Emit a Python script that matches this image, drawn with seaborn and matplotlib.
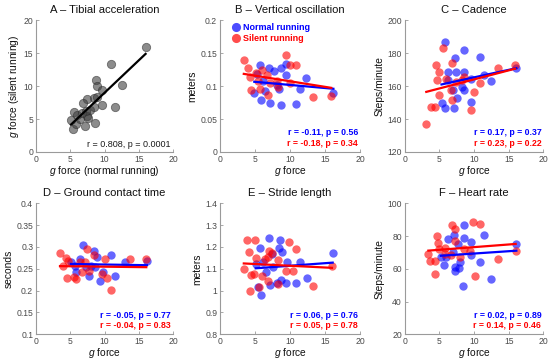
import matplotlib
matplotlib.use("Agg")
import matplotlib.pyplot as plt
from matplotlib.ticker import FuncFormatter
import seaborn as sns
import numpy as np

# A - tibial acceleration, normal vs silent
tib_normal = [16.0, 11.0, 8.8, 8.9, 9.7, 12.5, 11.5, 9.6, 8.5, 7.5, 6.8, 5.6, 5.1, 5.4,
              5.8, 6.0, 6.4, 7.2, 7.5, 7.6, 7.9, 8.4, 8.6, 7.3, 6.7, 8.9]
tib_silent = [15.9, 13.4, 11.0, 10.0, 9.4, 10.1, 6.8, 7.2, 8.2, 8.1, 7.4, 6.0, 4.8, 3.5,
              4.3, 5.6, 5.0, 3.9, 5.4, 5.1, 6.4, 6.9, 4.4, 6.2, 5.9, 8.4]

# B - vertical oscillation
vo_norm_x = [16.2, 12.3, 11.5, 10.8, 9.4, 9.4, 8.7, 8.7, 8.5, 8.2, 7.7, 7.2, 7.0, 5.7, 5.8, 4.9, 5.3, 6.5, 6.2]
vo_norm_y = [0.090, 0.113, 0.096, 0.073, 0.134, 0.117, 0.127, 0.071, 0.096, 0.102, 0.123, 0.074, 0.127,
             0.132, 0.079, 0.089, 0.119, 0.093, 0.107]
vo_sil_x = [3.4, 4.0, 4.3, 4.5, 5.1, 5.5, 6.0, 6.7, 6.9, 7.1, 8.1, 9.4, 10.0, 10.9, 10.0, 13.3, 15.9, 8.3, 5.7]
vo_sil_y = [0.139, 0.127, 0.114, 0.094, 0.120, 0.107, 0.124, 0.117, 0.086, 0.104, 0.107, 0.147, 0.132,
            0.132, 0.104, 0.084, 0.085, 0.098, 0.095]

# C - cadence
cad_norm_x = [5.8, 8.6, 10.8, 7.2, 16.1, 11.5, 12.5, 8.6, 7.4, 6.2, 5.3, 5.8, 7.1, 7.6, 9.5, 8.6, 8.2, 7.0, 9.5, 6.2]
cad_norm_y = [186.9, 181.8, 177.8, 177.2, 170.7, 167.0, 163.0, 168.7, 168.7, 168.7, 149.5, 146.5, 146.5,
              152.5, 150.5, 157.6, 159.2, 157.6, 164.4, 163.4]
cad_sil_x = [3.1, 3.8, 4.3, 4.7, 4.9, 5.0, 4.5, 5.5, 6.8, 6.8, 6.6, 7.4, 8.6, 9.5, 10.0, 10.8, 13.4, 15.9, 6.0, 8.2]
cad_sil_y = [136.8, 147.5, 147.5, 163.6, 154.5, 168.7, 173.1, 183.2, 174.3, 151.5, 157.6, 162.6, 165.3,
             145.5, 156.6, 161.6, 171.1, 172.7, 164.6, 163.6]

# D - ground contact time
gct_norm_x = [6.8, 8.4, 8.9, 10.9, 11.5, 16.2, 13.0, 9.3, 7.7, 6.4, 5.7, 5.1, 8.6, 9.8, 7.3, 5.9, 8.1]
gct_norm_y = [0.304, 0.291, 0.276, 0.281, 0.234, 0.268, 0.265, 0.222, 0.234, 0.273, 0.257, 0.266, 0.254,
              0.242, 0.254, 0.242, 0.257]
gct_sil_x = [3.5, 4.0, 4.4, 4.7, 4.5, 5.5, 5.9, 6.4, 7.2, 7.5, 8.4, 10.1, 10.3, 11.0, 13.7, 16.1, 6.7, 7.8, 9.6]
gct_sil_y = [0.286, 0.257, 0.274, 0.268, 0.228, 0.232, 0.227, 0.265, 0.265, 0.295, 0.281, 0.272, 0.228,
             0.202, 0.272, 0.272, 0.242, 0.245, 0.238]

# E - stride length
sl_norm_x = [7.0, 8.6, 8.5, 8.8, 5.7, 5.1, 6.2, 7.5, 9.6, 11.5, 12.4, 16.1, 10.9, 9.4, 8.7, 8.1, 7.2,
             5.9, 5.5, 6.6, 7.6]
sl_norm_y = [1.239, 1.231, 1.197, 1.178, 1.197, 1.124, 1.129, 1.166, 1.132, 1.129, 1.056, 1.171, 1.033,
             1.033, 1.050, 1.033, 1.025, 0.980, 1.015, 1.086, 1.106]
sl_sil_x = [3.4, 3.8, 4.2, 4.3, 4.5, 4.9, 5.0, 5.2, 5.6, 6.0, 6.4, 6.8, 7.0, 7.4, 6.9, 8.3, 8.3, 9.5,
            9.9, 10.9, 10.5, 13.3, 16.0]
sl_sil_y = [1.101, 1.232, 1.178, 1.000, 1.071, 1.076, 1.232, 1.147, 1.015, 1.068, 1.145, 1.152, 1.183,
            1.172, 1.045, 1.030, 1.141, 1.091, 1.223, 1.190, 1.091, 1.022, 1.111]

# F - heart rate
hr_norm_x = [8.5, 8.6, 11.5, 9.5, 16.1, 7.1, 6.2, 7.7, 9.5, 8.0, 7.3, 7.2, 5.7, 5.2, 6.0, 10.8, 12.5, 8.4, 7.8, 7.0]
hr_norm_y = [86.6, 78.5, 80.5, 76.5, 75.4, 80.5, 78.1, 75.0, 68.1, 64.0, 61.0, 58.8, 62.2, 67.4, 66.9,
             63.9, 53.7, 49.6, 60.4, 70.5]
hr_sil_x = [3.4, 3.7, 4.3, 4.3, 4.7, 4.8, 5.0, 5.8, 6.8, 7.2, 7.2, 6.6, 8.0, 8.5, 9.4, 9.8, 10.9, 10.1,
            13.4, 16.0, 5.8]
hr_sil_y = [69.3, 64.8, 64.8, 56.7, 80.1, 76.0, 72.0, 72.4, 86.6, 84.2, 77.1, 68.3, 66.9, 72.0, 70.9,
            88.6, 87.6, 55.7, 65.9, 71.0, 68.9]

plt.rcParams['font.family'] = ['Liberation Sans', 'DejaVu Sans']
plt.rcParams['mathtext.fontset'] = 'custom'
plt.rcParams['mathtext.it'] = 'Liberation Sans:italic'
plt.rcParams['mathtext.rm'] = 'Liberation Sans'

AXCOL = '#9a9a9a'
TXTCOL = '#4a4a4a'
BLUE = '#0000ff'
RED = '#ff0000'
MS = 36


def style_axes(ax, title, ylabel, xlabel, ylim, yticks):
    sns.despine(ax=ax)
    for s in ['left', 'bottom']:
        ax.spines[s].set_color(AXCOL)
        ax.spines[s].set_linewidth(0.8)
    ax.set_xlim(0, 20)
    ax.set_xticks([0, 5, 10, 15, 20])
    ax.set_ylim(*ylim)
    ax.set_yticks(yticks)
    ax.yaxis.set_major_formatter(FuncFormatter(lambda v, p: '%g' % round(v, 3)))
    ax.tick_params(direction='in', length=2, width=0.6, color=AXCOL, labelsize=6.2,
                   labelcolor=TXTCOL, pad=2)
    ax.set_title(title, fontsize=8.1, color='#111111', pad=5)
    ax.set_xlabel(xlabel, fontsize=7.4, color='#111111', labelpad=0)
    ax.set_ylabel(ylabel, fontsize=7.4, color='#111111', labelpad=2)
    ax.set_facecolor('white')


def pair_panel(ax, nx, ny, sx, sy, title, ylabel, ylim, yticks, txt_b, txt_r):
    sns.regplot(x=np.array(nx), y=np.array(ny), ax=ax, ci=None, color=BLUE,
                scatter_kws=dict(s=MS, alpha=0.6, linewidths=0),
                line_kws=dict(lw=1.6, color=BLUE))
    sns.regplot(x=np.array(sx), y=np.array(sy), ax=ax, ci=None, color=RED,
                scatter_kws=dict(s=MS, alpha=0.6, linewidths=0),
                line_kws=dict(lw=1.6, color=RED))
    style_axes(ax, title, ylabel, r'$\it{g}$ force', ylim, yticks)
    ax.text(0.985, 0.145, txt_b, transform=ax.transAxes, ha='right', va='center',
            color=BLUE, fontsize=6.3, fontweight='bold')
    ax.text(0.985, 0.065, txt_r, transform=ax.transAxes, ha='right', va='center',
            color=RED, fontsize=6.3, fontweight='bold')


fig = plt.figure(figsize=(5.5, 3.61), dpi=100)
fig.patch.set_facecolor('white')

w = 0.252
h = 0.365
top_b = 0.579
bot_b = 0.074
lefts = [0.0655, 0.400, 0.736]

axA = fig.add_axes([lefts[0], top_b, 0.249, h])
sns.regplot(x=np.array(tib_normal), y=np.array(tib_silent), ax=axA, ci=None, color='#404040',
            scatter_kws=dict(s=MS, alpha=0.6, linewidths=0.6, edgecolors='#303030'),
            line_kws=dict(lw=1.6, color='black'))
style_axes(axA, 'A – Tibial acceleration', r'$\it{g}$ force (silent running)',
           r'$\it{g}$ force (normal running)', (0, 20), [0, 5, 10, 15, 20])
axA.text(0.985, 0.06, 'r = 0.808, p = 0.0001', transform=axA.transAxes, ha='right', va='center',
         color='#1a1a1a', fontsize=6.5)

axB = fig.add_axes([lefts[1], top_b, 0.2545, h])
pair_panel(axB, vo_norm_x, vo_norm_y, vo_sil_x, vo_sil_y, 'B – Vertical oscillation', 'meters',
           (0, 0.2), [0, 0.05, 0.1, 0.15, 0.2], 'r = -0.11, p = 0.56', 'r = -0.18, p = 0.34')
axB.scatter([], [], s=MS * 1.2, color=BLUE, alpha=0.7, linewidths=0, label='Normal running')
axB.scatter([], [], s=MS * 1.2, color=RED, alpha=0.7, linewidths=0, label='Silent running')
leg = axB.legend(loc='upper left', bbox_to_anchor=(0.04, 1.03), frameon=False, fontsize=6.5,
                 handletextpad=0.2, borderpad=0.2, labelspacing=0.25, handlelength=1.0)
for t, c in zip(leg.get_texts(), [BLUE, RED]):
    t.set_color(c)
    t.set_fontweight('bold')

axC = fig.add_axes([lefts[2], top_b, w, h])
pair_panel(axC, cad_norm_x, cad_norm_y, cad_sil_x, cad_sil_y, 'C – Cadence', 'Steps/minute',
           (120, 200), [120, 140, 160, 180, 200], 'r = 0.17, p = 0.37', 'r = 0.23, p = 0.22')

axD = fig.add_axes([lefts[0], bot_b, 0.249, 0.363])
pair_panel(axD, gct_norm_x, gct_norm_y, gct_sil_x, gct_sil_y, 'D – Ground contact time', 'seconds',
           (0.1, 0.4), [0.1, 0.15, 0.2, 0.25, 0.3, 0.35, 0.4], 'r = -0.05, p = 0.77', 'r = -0.04, p = 0.83')

axE = fig.add_axes([lefts[1], bot_b, 0.2545, 0.363])
pair_panel(axE, sl_norm_x, sl_norm_y, sl_sil_x, sl_sil_y, 'E – Stride length', 'meters',
           (0.8, 1.4), [0.8, 0.9, 1.0, 1.1, 1.2, 1.3, 1.4], 'r = 0.06, p = 0.76', 'r = 0.05, p = 0.78')

axF = fig.add_axes([lefts[2], bot_b, w, 0.363])
pair_panel(axF, hr_norm_x, hr_norm_y, hr_sil_x, hr_sil_y, 'F – Heart rate', 'Steps/minute',
           (20, 100), [20, 40, 60, 80, 100], 'r = 0.02, p = 0.89', 'r = 0.14, p = 0.46')

fig.savefig('out.png', dpi=100, facecolor='white')
